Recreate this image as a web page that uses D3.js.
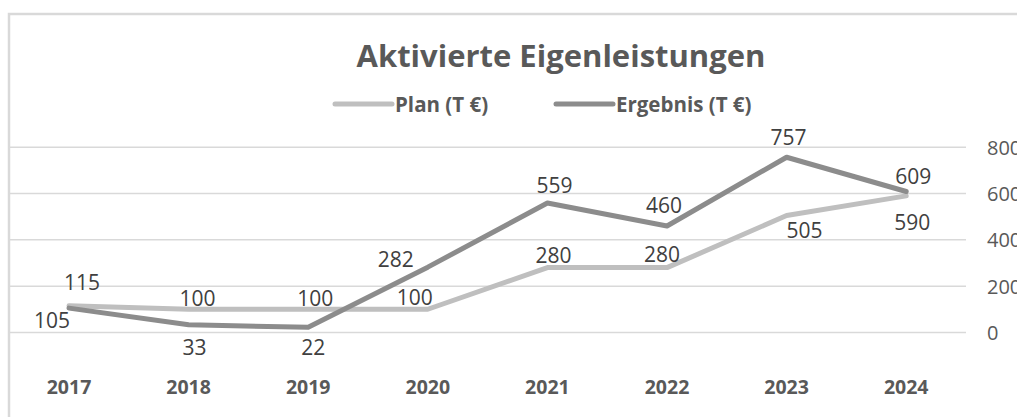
<!DOCTYPE html>
<html>
<head>
<meta charset="utf-8">
<script src="https://cdn.jsdelivr.net/npm/d3@7"></script>
<style>
  html, body { margin: 0; padding: 0; background: #fff; overflow: hidden; }
  svg { display: block; font-family: "Open Sans", "Noto Sans", sans-serif; }
</style>
</head>
<body>
<svg id="chart" width="1017" height="417"></svg>
<script>
// ---- data ----
const years = ["2017", "2018", "2019", "2020", "2021", "2022", "2023", "2024"];
const planValues = [115, 100, 100, 100, 280, 280, 505, 590];
const ergebnisValues = [105, 33, 22, 282, 559, 460, 757, 609];
const seriesNames = ["Plan (T €)", "Ergebnis (T €)"];
const yTicks = [0, 200, 400, 600, 800];
const titleText = "Aktivierte Eigenleistungen";

// ---- layout (label nudges relative to each point: [dx, dy to baseline]) ----
const planLabelOffsets = [[13, -16], [9, -3], [7, -3], [-13, -4], [6, -5], [-5, -6], [18, 22], [6, 34]];
const ergebnisLabelOffsets = [[-17, 20], [6, 30], [5, 28], [-32, 0], [7, -10], [-3, -13], [2, -12], [7, -7]];

const svg = d3.select("#chart");
const W = 1017, H = 417;

const x = d3.scaleBand().domain(years).range([9.2, 966]).paddingInner(0).paddingOuter(0);
const y = d3.scaleLinear().domain([0, 800]).range([332.4, 147.3]);
const cx = d => x(d) + x.bandwidth() / 2;

// chart border (partial, cropped screenshot)
svg.append("path")
  .attr("d", `M9,${H} L9,14 L${W},14`)
  .attr("fill", "none").attr("stroke", "#d9d9d9").attr("stroke-width", 2.5);

// gridlines
svg.append("g").selectAll("line").data(yTicks).join("line")
  .attr("x1", 10).attr("x2", 966)
  .attr("y1", d => y(d)).attr("y2", d => y(d))
  .attr("stroke", "#d9d9d9").attr("stroke-width", 1.5);

// right axis labels
const yAxis = d3.axisRight(y).tickValues(yTicks).tickSize(0).tickPadding(0);
const gAxis = svg.append("g").attr("transform", "translate(987,0)").call(yAxis);
gAxis.select(".domain").remove();
gAxis.selectAll("text")
  .attr("fill", "#595959").style("font-size", "20px")
  .style("font-family", "'Open Sans', sans-serif")
  .attr("dy", "0.35em");

// x axis labels
const xAxis = d3.axisBottom(x).tickSize(0).tickPadding(0);
const gX = svg.append("g").attr("transform", "translate(0,394)").call(xAxis);
gX.select(".domain").remove();
gX.selectAll("text")
  .attr("fill", "#595959").attr("dy", 0).attr("y", 0)
  .style("font-size", "19.5px").style("font-weight", "bold")
  .style("font-family", "'Open Sans', sans-serif");

// lines
const line = d3.line().x((d, i) => cx(years[i])).y(d => y(d));
const seriesData = [
  { name: seriesNames[0], values: planValues, color: "#bfbfbf", offsets: planLabelOffsets },
  { name: seriesNames[1], values: ergebnisValues, color: "#8c8c8c", offsets: ergebnisLabelOffsets }
];

seriesData.forEach(s => {
  svg.append("path")
    .datum(s.values)
    .attr("d", line)
    .attr("fill", "none")
    .attr("stroke", s.color)
    .attr("stroke-width", 5)
    .attr("stroke-linejoin", "round")
    .attr("stroke-linecap", "round");
});

// data labels
seriesData.forEach(s => {
  svg.append("g").selectAll("text").data(s.values).join("text")
    .attr("x", (d, i) => cx(years[i]) + s.offsets[i][0])
    .attr("y", (d, i) => y(d) + s.offsets[i][1])
    .attr("text-anchor", "middle")
    .attr("fill", "#404040")
    .style("font-size", "21px")
    .text(d => d);
});

// title
svg.append("text")
  .attr("x", 561).attr("y", 67)
  .attr("text-anchor", "middle")
  .attr("fill", "#595959")
  .style("font-size", "31px").style("font-weight", "bold")
  .text(titleText);

// legend
const legendX = [335, 556];
seriesData.forEach((s, i) => {
  const g = svg.append("g").attr("transform", `translate(${legendX[i]},104)`);
  g.append("line").attr("x1", 0).attr("x2", 57).attr("y1", 0).attr("y2", 0)
    .attr("stroke", s.color).attr("stroke-width", 5).attr("stroke-linecap", "round");
  g.append("text").attr("x", 60).attr("y", 7.5)
    .attr("fill", "#595959")
    .style("font-size", "20.5px").style("font-weight", "bold")
    .text(s.name);
});
</script>
</body>
</html>
